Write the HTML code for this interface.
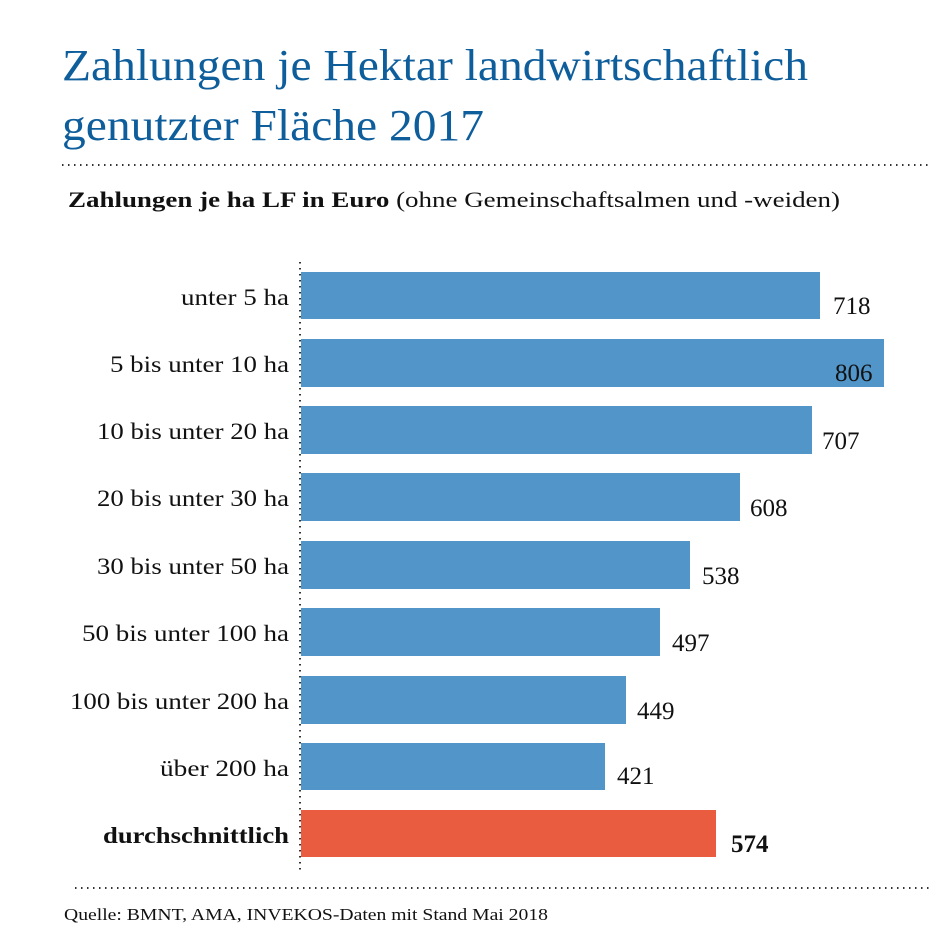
<!DOCTYPE html>
<html><head><meta charset="utf-8"><style>body{margin:0;background:#fff}svg{display:block}</style></head>
<body>
<svg width="941" height="931" xmlns="http://www.w3.org/2000/svg" font-family="'Liberation Serif', serif">
<rect width="941" height="931" fill="#fff"/>
<text x="62" y="80" font-size="44" fill="#0F5E9C" textLength="746" lengthAdjust="spacingAndGlyphs">Zahlungen je Hektar landwirtschaftlich</text>
<text x="62" y="140" font-size="44" fill="#0F5E9C" textLength="422" lengthAdjust="spacingAndGlyphs">genutzter Fläche 2017</text>
<line x1="62" y1="165" x2="930" y2="165" stroke="#333" stroke-width="2" stroke-dasharray="1.5 4.5"/>
<text x="68" y="207" font-size="22" fill="#111" textLength="772" lengthAdjust="spacingAndGlyphs"><tspan font-weight="bold">Zahlungen je ha LF in Euro</tspan> (ohne Gemeinschaftsalmen und -weiden)</text>
<line x1="300" y1="262" x2="300" y2="872" stroke="#333" stroke-width="2" stroke-dasharray="1.5 4.5"/>
<g fill="#5195C9">
<rect x="301" y="272" width="519" height="47"/>
<rect x="301" y="339" width="583" height="48"/>
<rect x="301" y="406" width="511" height="48"/>
<rect x="301" y="473" width="439" height="48"/>
<rect x="301" y="541" width="389" height="48"/>
<rect x="301" y="608" width="359" height="48"/>
<rect x="301" y="676" width="325" height="48"/>
<rect x="301" y="743" width="304" height="47"/>
</g>
<rect x="301" y="810" width="415" height="47" fill="#E95C40"/>
<g font-size="23" fill="#111" lengthAdjust="spacingAndGlyphs">
<text x="181" y="305" textLength="108" lengthAdjust="spacingAndGlyphs">unter 5 ha</text>
<text x="110" y="372" textLength="179" lengthAdjust="spacingAndGlyphs">5 bis unter 10 ha</text>
<text x="97" y="439" textLength="192" lengthAdjust="spacingAndGlyphs">10 bis unter 20 ha</text>
<text x="97" y="506" textLength="192" lengthAdjust="spacingAndGlyphs">20 bis unter 30 ha</text>
<text x="97" y="574" textLength="192" lengthAdjust="spacingAndGlyphs">30 bis unter 50 ha</text>
<text x="82" y="641" textLength="207" lengthAdjust="spacingAndGlyphs">50 bis unter 100 ha</text>
<text x="70" y="709" textLength="219" lengthAdjust="spacingAndGlyphs">100 bis unter 200 ha</text>
<text x="160" y="776" textLength="129" lengthAdjust="spacingAndGlyphs">über 200 ha</text>
<text x="103" y="843" font-weight="bold" textLength="186" lengthAdjust="spacingAndGlyphs">durchschnittlich</text>
</g>
<g font-size="25" fill="#111">
<text x="833" y="314">718</text>
<text x="835" y="381">806</text>
<text x="822" y="449">707</text>
<text x="750" y="516">608</text>
<text x="702" y="584">538</text>
<text x="672" y="651">497</text>
<text x="637" y="719">449</text>
<text x="617" y="784">421</text>
<text x="731" y="852" font-weight="bold">574</text>
</g>
<line x1="75" y1="888" x2="930" y2="888" stroke="#333" stroke-width="2" stroke-dasharray="1.5 4.5"/>
<text x="64" y="920" font-size="17" fill="#111" textLength="484" lengthAdjust="spacingAndGlyphs">Quelle: BMNT, AMA, INVEKOS-Daten mit Stand Mai 2018</text>
</svg>
</body></html>
